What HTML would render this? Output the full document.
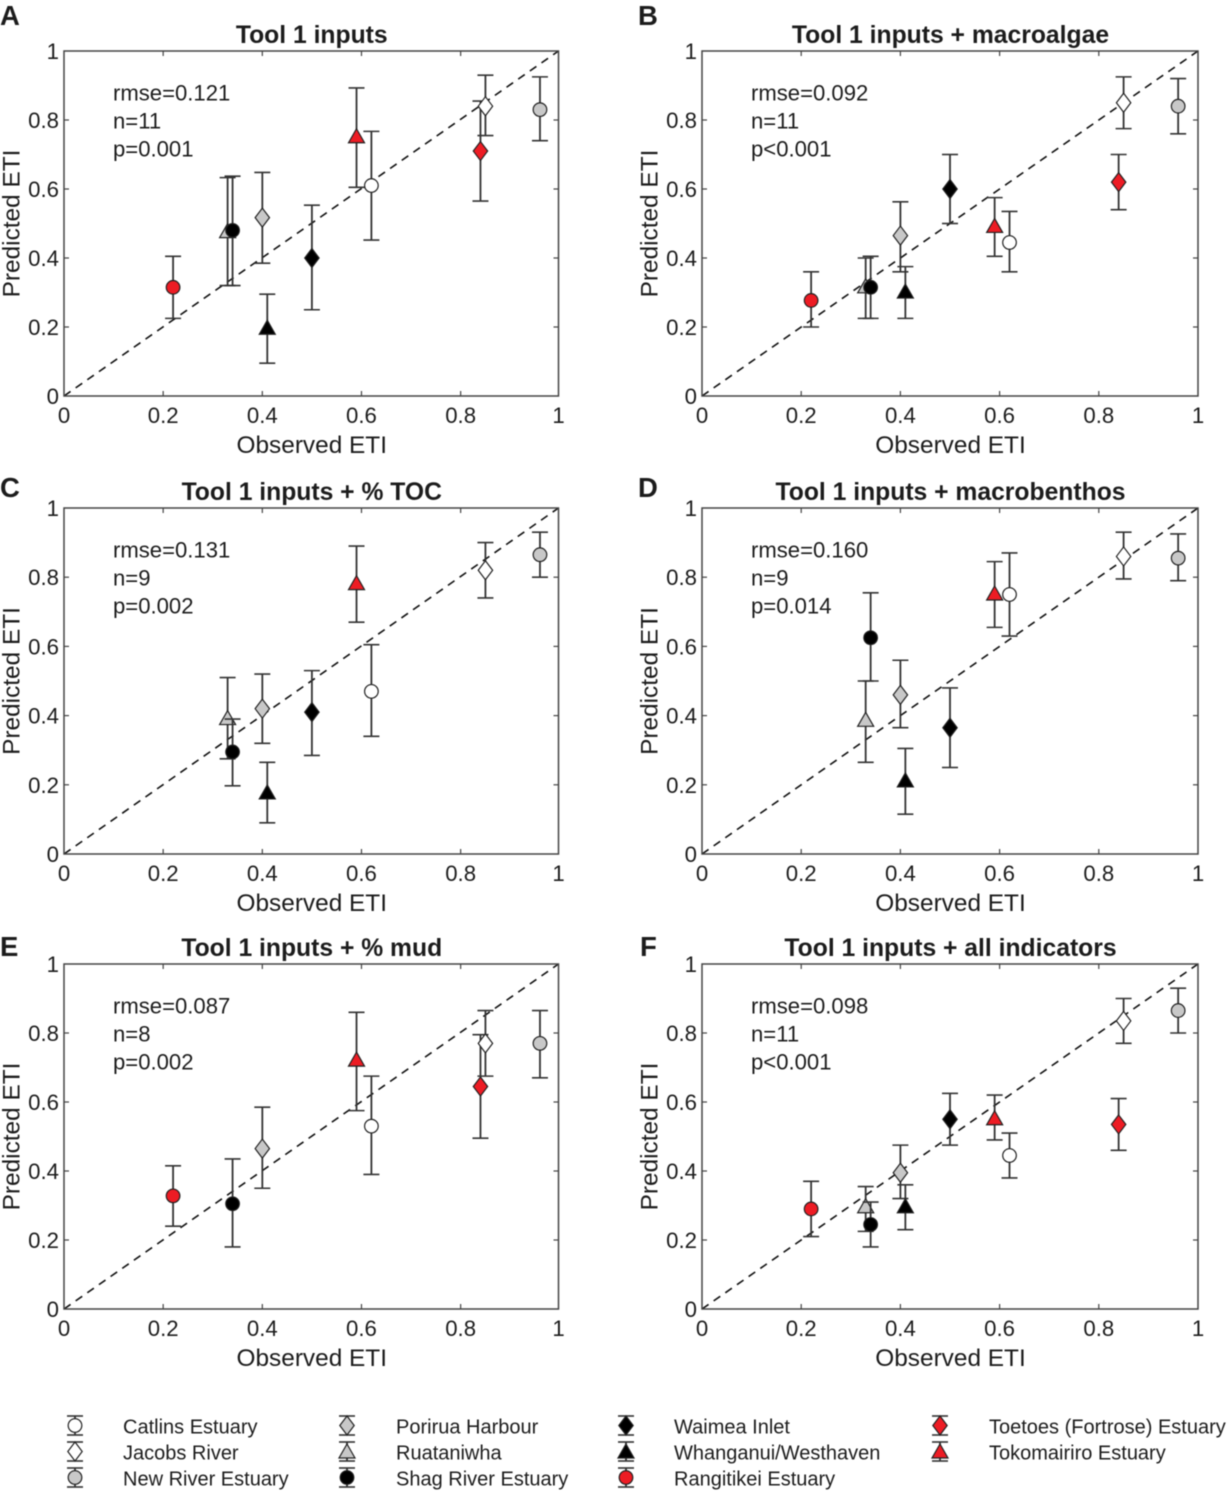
<!DOCTYPE html>
<html lang="en">
<head>
<meta charset="utf-8">
<title>Observed vs predicted ETI</title>
<style>
html,body{margin:0;padding:0;background:#fff;}
svg{display:block;font-family:"Liberation Sans",sans-serif;filter:blur(0.4px);}
text{fill:#1c1c1c;}
</style>
</head>
<body>
<svg id="figure" xmlns="http://www.w3.org/2000/svg" width="1227" height="1491" viewBox="0 0 1227 1491"></svg>
<script>
const siteNames = ["Catlins Estuary","Jacobs River","New River Estuary","Porirua Harbour","Ruataniwha","Shag River Estuary","Waimea Inlet","Whanganui/Westhaven","Rangitikei Estuary","Toetoes (Fortrose) Estuary","Tokomairiro Estuary"];
const siteShapes = ["circle","diamond","circle","diamond","triangle","circle","diamond","triangle","circle","diamond","triangle"];
const siteFills = ["#ffffff","#ffffff","#c8c8c8","#c8c8c8","#c8c8c8","#000000","#000000","#000000","#ed1c24","#ed1c24","#ed1c24"];
const observed = [0.62,0.85,0.96,0.40,0.33,0.34,0.50,0.41,0.22,0.84,0.59];
const axisTicks = [0,0.2,0.4,0.6,0.8,1];
const tickLabels = ["0","0.2","0.4","0.6","0.8","1"];

const titles = ["Tool 1 inputs","Tool 1 inputs + macroalgae","Tool 1 inputs + % TOC","Tool 1 inputs + macrobenthos","Tool 1 inputs + % mud","Tool 1 inputs + all indicators"];
const letters = ["A","B","C","D","E","F"];
const rmseLabels = ["rmse=0.121","rmse=0.092","rmse=0.131","rmse=0.160","rmse=0.087","rmse=0.098"];
const nLabels = ["n=11","n=11","n=9","n=9","n=8","n=11"];
const pLabels = ["p=0.001","p<0.001","p=0.002","p=0.014","p=0.002","p<0.001"];

// site order matches siteNames; null = site not in this model
const predA = [0.61,0.84,0.83,0.517,0.475,0.48,0.40,0.195,0.315,0.71,0.75];
const lowA  = [0.452,0.755,0.74,0.385,0.32,0.32,0.25,0.095,0.225,0.565,0.605];
const highA = [0.767,0.93,0.925,0.648,0.633,0.637,0.553,0.295,0.405,0.855,0.893];

const predB = [0.445,0.85,0.84,0.465,0.315,0.315,0.60,0.30,0.277,0.62,0.49];
const lowB  = [0.36,0.775,0.76,0.36,0.225,0.225,0.50,0.225,0.20,0.54,0.405];
const highB = [0.535,0.925,0.92,0.563,0.40,0.405,0.70,0.375,0.36,0.70,0.575];

const predC = [0.47,0.82,0.865,0.42,0.39,0.295,0.41,0.175,null,null,0.78];
const lowC  = [0.34,0.74,0.80,0.32,0.275,0.197,0.285,0.09,null,null,0.67];
const highC = [0.605,0.90,0.93,0.52,0.51,0.39,0.53,0.265,null,null,0.89];

const predD = [0.75,0.86,0.855,0.46,0.385,0.625,0.365,0.21,null,null,0.75];
const lowD  = [0.63,0.795,0.79,0.365,0.265,0.50,0.25,0.115,null,null,0.655];
const highD = [0.87,0.93,0.925,0.56,0.50,0.755,0.48,0.305,null,null,0.845];

const predE = [0.53,0.77,0.77,0.465,null,0.305,null,null,0.328,0.645,0.72];
const lowE  = [0.39,0.675,0.67,0.35,null,0.18,null,null,0.24,0.495,0.575];
const highE = [0.675,0.865,0.865,0.585,null,0.435,null,null,0.415,0.795,0.86];

const predF = [0.445,0.835,0.865,0.395,0.295,0.245,0.55,0.295,0.29,0.535,0.55];
const lowF  = [0.38,0.77,0.80,0.32,0.225,0.18,0.475,0.23,0.21,0.46,0.49];
const highF = [0.51,0.90,0.93,0.475,0.355,0.31,0.625,0.36,0.37,0.61,0.62];

const panelPred = [predA,predB,predC,predD,predE,predF];
const panelLow = [lowA,lowB,lowC,lowD,lowE,lowF];
const panelHigh = [highA,highB,highC,highD,highE,highF];

const drawOrder = [8,4,5,3,7,6,10,0,9,1,2];

const NS = "http://www.w3.org/2000/svg";
const root = document.getElementById("figure");
const INK = "#333";

function mk(tag, attrs, parent) {
  const el = document.createElementNS(NS, tag);
  for (const k in attrs) el.setAttribute(k, attrs[k]);
  parent.appendChild(el);
  return el;
}

function drawMarker(parent, shape, fill, cx, cy) {
  let m;
  if (shape === "circle") {
    m = mk("circle", {cx: cx, cy: cy, r: 6.8, fill: fill, stroke: "#222", "stroke-width": 1.2}, parent);
  } else if (shape === "diamond") {
    m = mk("polygon", {points: (cx)+","+(cy-9.5)+" "+(cx+7.2)+","+cy+" "+(cx)+","+(cy+9.5)+" "+(cx-7.2)+","+cy, fill: fill, stroke: "#222", "stroke-width": 1.2}, parent);
  } else {
    m = mk("polygon", {points: cx+","+(cy-8.5)+" "+(cx+8)+","+(cy+5.5)+" "+(cx-8)+","+(cy+5.5), fill: fill, stroke: "#222", "stroke-width": 1.2}, parent);
  }
  
  
}

function drawErrorBar(parent, x, yLow, yHigh, capHalf) {
  const stem = mk("line", {x1: x, x2: x, y1: yLow, y2: yHigh, stroke: INK, "stroke-width": 1.8}, parent);
  
  
  const capA = mk("line", {x1: x-capHalf, x2: x+capHalf, y1: yLow, y2: yLow, stroke: INK, "stroke-width": 1.6}, parent);
  
  
  const capB = mk("line", {x1: x-capHalf, x2: x+capHalf, y1: yHigh, y2: yHigh, stroke: INK, "stroke-width": 1.6}, parent);
  
  
}

function drawPanel(idx) {
  const col = idx % 2, row = Math.floor(idx / 2);
  const left = col === 0 ? 64 : 702;
  const right = col === 0 ? 558.5 : 1198;
  const scaleRight = col === 0 ? 559.8 : 1198;
  const top = [51, 508, 964][row];
  const bottom = [396, 854, 1309][row];
  const letterBase = [25, 497, 956][row];
  const sx = v => left + v * (scaleRight - left);
  const sy = v => bottom - v * (bottom - top);
  const cx = (left + right) / 2;

  const g = mk("g", {}, root);
  
  

  const letter = mk("text", {x: col === 0 ? 0 : (idx === 5 ? 640 : 638), y: letterBase, "font-size": 27.5, "font-weight": "bold"}, g);
  letter.textContent = letters[idx];
  
  

  const title = mk("text", {x: cx + 0.5, y: top - 8, "font-size": 24.7, "font-weight": "bold", "text-anchor": "middle"}, g);
  title.textContent = titles[idx];
  
  

  const diag = mk("line", {x1: left, y1: bottom, x2: right, y2: top, stroke: "#111", "stroke-width": 1.6, "stroke-dasharray": "8 6.2"}, g);
  
  

  const box = mk("rect", {x: left, y: top, width: right - left, height: bottom - top, fill: "none", stroke: "#444", "stroke-width": 1.5}, g);
  
  

  axisTicks.forEach(function (v, i) {
    if (v > 0 && v < 1) {
      const segs = [[sx(v), bottom, sx(v), bottom-5], [sx(v), top, sx(v), top+5], [left, sy(v), left+5, sy(v)], [right, sy(v), right-5, sy(v)]];
      segs.forEach(function (s) {
        const t = mk("line", {x1: s[0], y1: s[1], x2: s[2], y2: s[3], stroke: "#444", "stroke-width": 1.2}, g);
        
        
      });
    }
    const xl = mk("text", {x: v === 1 ? right : sx(v), y: bottom + 27, "font-size": 22.2, "text-anchor": "middle"}, g);
    xl.textContent = tickLabels[i];
    
    
    const yl = mk("text", {x: left - 5, y: sy(v) + 8, "font-size": 22.2, "text-anchor": "end"}, g);
    yl.textContent = tickLabels[i];
    
    
  });

  const xt = mk("text", {x: cx + 0.5, y: bottom + 57, "font-size": 24.4, "text-anchor": "middle"}, g);
  xt.textContent = "Observed ETI";
  
  

  const ymid = (top + bottom) / 2;
  const yx = left - 44.5;
  const yt = mk("text", {x: yx, y: ymid, "font-size": 24.4, "text-anchor": "middle", transform: "rotate(-90 " + yx + " " + ymid + ")"}, g);
  yt.textContent = "Predicted ETI";
  
  

  const stats = [rmseLabels[idx], nLabels[idx], pLabels[idx]];
  stats.forEach(function (s, i) {
    const st = mk("text", {x: left + 49, y: top + 49.5 + i * 28, "font-size": 22.1}, g);
    st.textContent = s;
    
    
  });

  const preds = panelPred[idx], lows = panelLow[idx], highs = panelHigh[idx];
  drawOrder.forEach(function (s) {
    if (preds[s] === null) return;
    const sg = mk("g", {}, g);
    
    
    drawErrorBar(sg, sx(observed[s]), sy(lows[s]), sy(highs[s]), 8);
    drawMarker(sg, siteShapes[s], siteFills[s], sx(observed[s]), sy(preds[s]));
  });
}

function drawLegend() {
  const markerX = [75, 347, 626, 940];
  const textX = [123, 396, 674, 989];
  const rowY = [1425.5, 1451.5, 1477.5];
  const lg = mk("g", {}, root);
  
  
  const perColumn = [3, 3, 3, 2];
  let s = 0;
  perColumn.forEach(function (count, c) {
    for (let r = 0; r < count; r++, s++) {
      const e = mk("g", {}, lg);
      
      
      drawErrorBar(e, markerX[c], rowY[r] + 9.5, rowY[r] - 9.5, 8);
      drawMarker(e, siteShapes[s], siteFills[s], markerX[c], siteShapes[s] === "triangle" ? rowY[r] + 1 : rowY[r]);
      const t = mk("text", {x: textX[c], y: rowY[r] + 8, "font-size": 20}, e);
      t.textContent = siteNames[s];
      
      
    }
  });
}

for (let i = 0; i < 6; i++) drawPanel(i);
drawLegend();
</script>
</body>
</html>
